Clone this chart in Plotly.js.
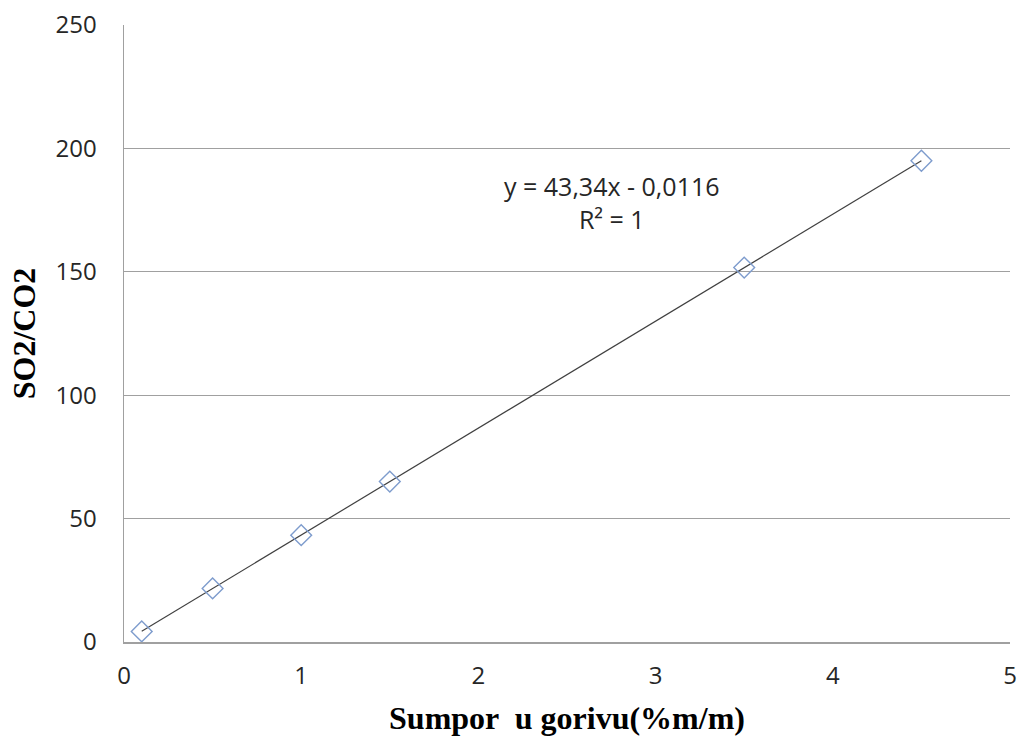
<!DOCTYPE html>
<html>
<head>
<meta charset="utf-8">
<script src="https://cdn.plot.ly/plotly-3.0.1.min.js"></script>
<style>html,body{margin:0;padding:0;background:#fff;}#chart{width:1020px;height:738px;}</style>
</head>
<body>
<div id="chart"></div>
<script>
const sulfur = [0.1, 0.5, 1, 1.5, 3.5, 4.5];
const ratio = [4.3, 21.7, 43.3, 65.0, 151.7, 195.0];
const trendX = [0.1, 4.5];
const trendY = [4.32, 195.02];
const xTicks = [0, 1, 2, 3, 4, 5];
const yTicks = [0, 50, 100, 150, 200, 250];
const equationText = 'y = 43,34x - 0,0116<br>R² = 1';

const tickFont = {family: 'Open Sans, Liberation Sans, sans-serif', size: 24, color: '#262626'};
const titleFont = {family: 'Liberation Serif, Times New Roman, serif', size: 32, color: '#000'};

Plotly.newPlot('chart', [
  {x: trendX, y: trendY, mode: 'lines', line: {color: '#404040', width: 1.2}, hoverinfo: 'skip', showlegend: false},
  {x: sulfur, y: ratio, mode: 'markers', marker: {symbol: 'diamond-open', size: 16, color: '#7e9ccd', line: {width: 1.4, color: '#7e9ccd'}}, showlegend: false}
], {
  width: 1020, height: 738,
  margin: {l: 124, r: 10, t: 25, b: 96},
  paper_bgcolor: '#fff', plot_bgcolor: '#fff',
  xaxis: {range: [0, 5], tickvals: xTicks, ticktext: xTicks.map(String), showgrid: false, zeroline: false,
    showline: true, linecolor: '#a0a0a0', linewidth: 1.5, ticks: '', tickfont: tickFont, ticklabelstandoff: 12,
    title: {text: '<b>Sumpor  u gorivu(%m/m)</b>', font: titleFont, standoff: 16}},
  yaxis: {range: [0, 250], tickvals: yTicks, ticktext: yTicks.map(String), showgrid: true, gridcolor: '#a0a0a0', gridwidth: 1.2,
    zeroline: false, showline: true, linecolor: '#a0a0a0', linewidth: 1.5, ticks: '', tickfont: tickFont, ticklabelstandoff: 21,
    title: {text: '<b>SO2/CO2</b>', font: titleFont, standoff: 10}},
  annotations: [{x: 2.752, y: 178, xref: 'x', yref: 'y', text: equationText, showarrow: false, align: 'center',
    font: {family: 'Open Sans, Liberation Sans, sans-serif', size: 25, color: '#262626'}}]
}, {displayModeBar: false, staticPlot: true});
</script>
</body>
</html>
